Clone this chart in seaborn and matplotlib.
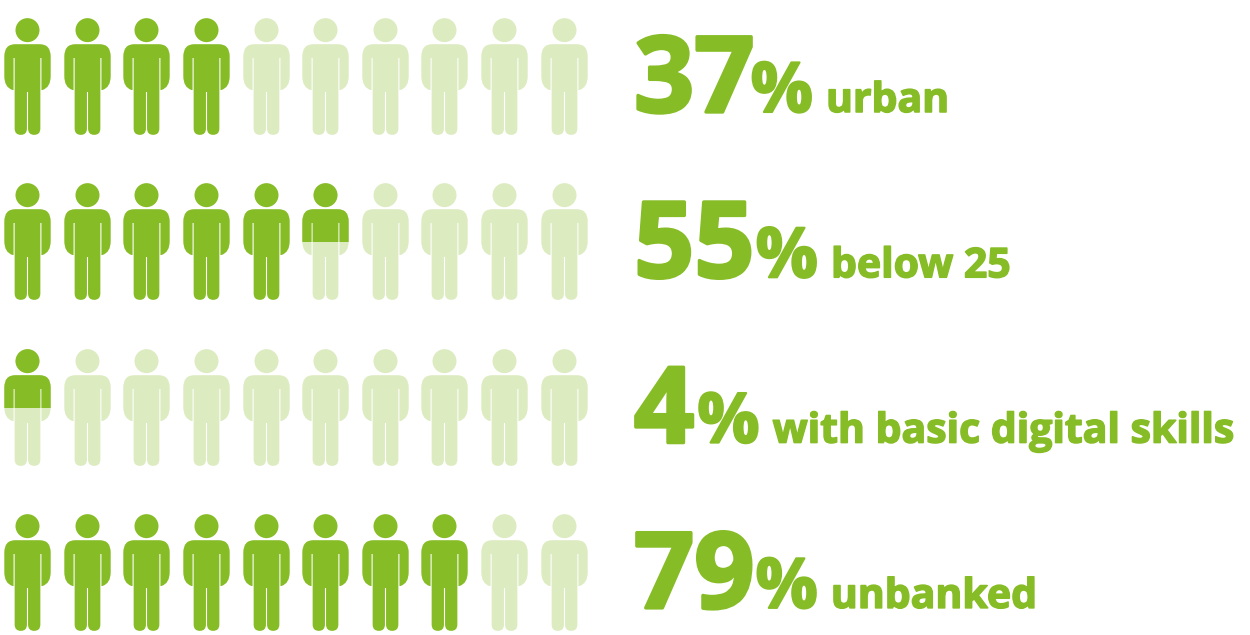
import math

import matplotlib
matplotlib.use("Agg")
import matplotlib.patheffects as pe
import matplotlib.pyplot as plt
from matplotlib.patches import Rectangle
from matplotlib.path import Path
import pandas as pd
import seaborn as sns

percentages = [37, 55, 4, 79]
captions = ["urban", "below 25", "with basic digital skills", "unbanked"]

GREEN = "#86bc25"
PALE = "#dcebc0"
ICONS_PER_ROW = 10
DPI = 100


def person_marker():
    """Pictogram outline centred on the origin, in pixels, y up."""
    m, l, c = Path.MOVETO, Path.LINETO, Path.CURVE3
    w = 23.2   # half shoulder width
    t = 13.4   # half torso width
    gap = 0.55  # half slit width
    right = [
        (m, (0, 32.3)),
        (l, (w - 11, 32.3)),
        (c, (w, 32.3)), (c, (w, 20)),
        (l, (w, 0.5)),
        (c, (w, -11)), (c, (t + gap + 1, -13.5)),
        (l, (t + gap, -13.5)),
        (l, (t + gap, 18.5)),
        (l, (t - gap, 18.5)),
        (l, (t - gap, -52)),
        (c, (t - gap, -58.35)), (c, (t / 2, -58.35)),
        (c, (gap, -58.35)), (c, (gap, -52)),
        (l, (gap, -15.5)),
        (l, (0, -15.5)),
    ]
    codes = [code for code, _ in right]
    verts = [pt for _, pt in right]
    # mirror the outline by walking back along the right-hand side
    for i in range(len(right) - 1, 0, -1):
        codes.append(right[i][0])
        verts.append((-right[i - 1][1][0], right[i - 1][1][1]))
    codes.append(Path.CLOSEPOLY)
    verts.append((0, 32.3))
    body = Path(verts, codes)
    head = Path.circle((0, 46.35), 12.0)
    return Path.make_compound_path(body, head)


MARKER = person_marker()
ICON_SIZE = (2 * 58.35 * 72 / DPI) ** 2

rows = []
for row, pct in enumerate(percentages):
    filled = math.ceil(pct / 5) / 2   # whole and half figures
    for i in range(ICONS_PER_ROW):
        share = max(0.0, min(1.0, filled - i))
        rows.append({"row": row, "col": i, "share": share,
                     "x": 27.2 + 59.6 * i, "y": 76.0 + 165.3 * row})
people = pd.DataFrame(rows)

sns.set_theme(style="white")
plt.rcParams["font.family"] = ["Open Sans", "DejaVu Sans"]

fig = plt.figure(figsize=(12.5, 6.35), dpi=DPI, facecolor="white")
ax = fig.add_axes([0, 0, 1, 1])
ax.set_xlim(0, 1250)
ax.set_ylim(635, 0)
ax.axis("off")

common = dict(x="x", y="y", marker=MARKER, s=ICON_SIZE, linewidth=0,
              legend=False, ax=ax)

sns.scatterplot(data=people[people.share < 1], color=PALE, **common)
sns.scatterplot(data=people[people.share == 1], color=GREEN, **common)

# Half figures: the upper part is drawn in full colour above a cut line
half = people[(people.share > 0) & (people.share < 1)]
for _, person in half.iterrows():
    before = len(ax.collections)
    sns.scatterplot(data=half[half.row == person.row], color=GREEN, **common)
    cut = Rectangle((person.x - 30, person.y - 60), 60, 60, transform=ax.transData)
    ax.collections[before].set_clip_path(cut)

# Figure, percent sign and caption flow along one baseline per row
renderer = fig.canvas.get_renderer()
styles = ((76, 2.4), (50, 1.5), (29.5, 1.1))
number_kern = [-4, 1, 3, 1]
for row, (pct, caption) in enumerate(zip(percentages, captions)):
    baseline = 112 + 165.3 * row
    x = 634.0
    pads = (number_kern[row], 13, 0)
    for text, (size, stroke), pad in zip((str(pct), "%", caption), styles, pads):
        t = ax.text(x, baseline, text, fontsize=size, fontweight="bold",
                    color=GREEN, ha="left", va="baseline",
                    path_effects=[pe.withStroke(linewidth=stroke, foreground=GREEN)])
        x = t.get_window_extent(renderer).x1 + pad

fig.savefig("out.png", dpi=DPI, facecolor="white")
